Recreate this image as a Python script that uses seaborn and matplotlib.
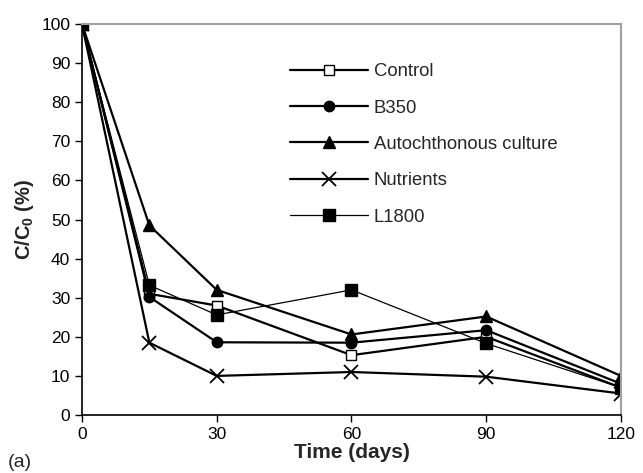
import matplotlib
matplotlib.use("Agg")
import matplotlib.pyplot as plt
import seaborn as sns
import pandas as pd

sns.set_style("white")
plt.rcParams["font.family"] = ["Liberation Sans", "DejaVu Sans"]

days = [0, 15, 30, 60, 90, 120]
control = [100, 31, 28, 15.3, 20, 7]
b350 = [100, 30.2, 18.6, 18.5, 21.7, 8]
autochthonous = [100, 48.5, 32, 20.6, 25.2, 10]
nutrients = [100, 18.5, 10, 11, 9.8, 5.5]
l1800 = [100, 33.2, 25.6, 32, 18.3, 7]

series = {
    "Control": control,
    "B350": b350,
    "Autochthonous culture": autochthonous,
    "Nutrients": nutrients,
    "L1800": l1800,
}
styles = {
    "Control": dict(marker="s", mfc="white", ms=7, lw=1.6),
    "B350": dict(marker="o", mfc="black", ms=7.5, lw=1.6),
    "Autochthonous culture": dict(marker="^", mfc="black", ms=8.5, lw=1.6),
    "Nutrients": dict(marker="x", mfc="black", ms=9.5, lw=1.6, mew=1.3),
    "L1800": dict(marker="s", mfc="black", ms=8, lw=0.9),
}

fig = plt.figure(figsize=(6.43, 4.73), dpi=100)
ax = fig.add_axes([0.1275, 0.1226, 0.8383, 0.8266])

for name, vals in series.items():
    df = pd.DataFrame({"day": days, "value": vals})
    st = styles[name]
    sns.lineplot(data=df, x="day", y="value", ax=ax, color="black",
                 marker=st["marker"], markersize=st["ms"],
                 markerfacecolor=st["mfc"], markeredgecolor="black",
                 markeredgewidth=st.get("mew", 1.0), linewidth=st["lw"],
                 label=name)

ax.set_xlim(0, 120)
ax.set_ylim(0, 100)
ax.set_xticks([0, 30, 60, 90, 120])
ax.set_yticks(range(0, 101, 10))
ax.tick_params(axis="both", direction="out", length=5, width=1,
               labelsize=12.5, colors="black", bottom=True, left=True)
for s in ("left", "bottom"):
    ax.spines[s].set_color("black")
    ax.spines[s].set_linewidth(1.2)
for s in ("top", "right"):
    ax.spines[s].set_color("#a0a0a0")
    ax.spines[s].set_linewidth(1.5)

ax.set_xlabel("Time (days)", fontsize=15, fontweight="bold", labelpad=1)
ax.set_ylabel("C/C$_\\mathregular{0}$ (%)", fontsize=14.5, fontweight="bold", labelpad=4)
fig.text(0.012, 0.012, "(a)", fontsize=14)

leg = ax.legend(loc="upper left", bbox_to_anchor=(0.386, 0.90), frameon=False,
                fontsize=13.3, handlelength=4.2, handletextpad=0.32,
                labelspacing=1.05, borderaxespad=0, borderpad=0)

fig.savefig("out.png", dpi=100)
